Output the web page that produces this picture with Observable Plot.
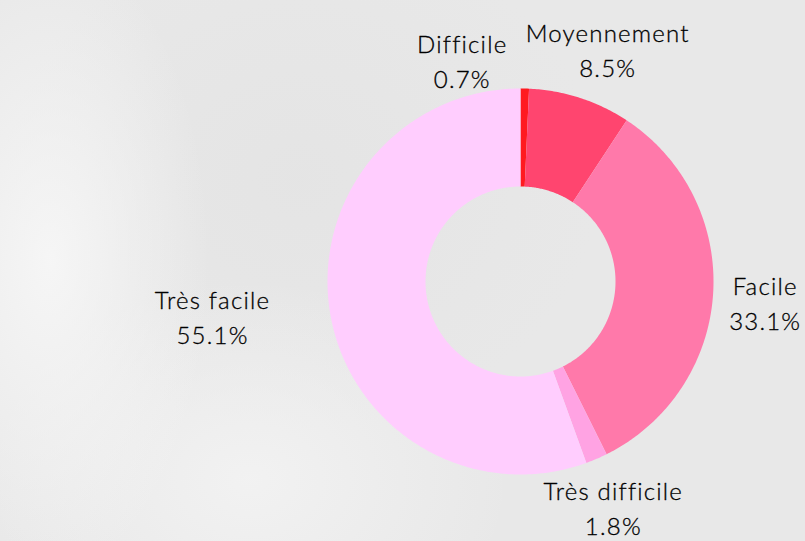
<!DOCTYPE html>
<html>
<head>
<meta charset="utf-8">
<script src="https://cdn.jsdelivr.net/npm/d3@7"></script>
<script src="https://cdn.jsdelivr.net/npm/@observablehq/plot@0.6"></script>
<style>
  html, body { margin: 0; padding: 0; }
  body {
    width: 805px; height: 541px; overflow: hidden;
    background:
      radial-gradient(ellipse 160px 320px at 50px 260px, rgba(247,247,247,0.9), rgba(247,247,247,0) 100%),
      radial-gradient(ellipse 260px 200px at 250px 480px, rgba(244,244,244,0.8), rgba(244,244,244,0) 100%),
      radial-gradient(ellipse 300px 250px at 300px 180px, rgba(226,226,226,0.6), rgba(226,226,226,0) 100%),
      #e8e8e8;
  }
  #chart svg { display: block; }
</style>
</head>
<body>
<div id="chart"></div>
<script>
const categories = ["Difficile", "Moyennement", "Facile", "Très difficile", "Très facile"];
const values = [0.7, 8.5, 33.1, 1.8, 55.1];
const labels = ["0.7%", "8.5%", "33.1%", "1.8%", "55.1%"];
const colors = ["#ff1a20", "#ff456f", "#ff79aa", "#ffa3e3", "#ffcdfe"];

const W = 805, H = 541;
const cx = 520, cy = 281, R = 193;       // center and outer radius in pixels
const innerFrac = 95 / 193;

// slice angles (clockwise from 12 o'clock)
const total = d3.sum(values);
let acc = 0;
const slices = categories.map((c, i) => {
  const a0 = acc / total * 2 * Math.PI;
  acc += values[i];
  const a1 = acc / total * 2 * Math.PI;
  return {cat: c, a0, a1, mid: (a0 + a1) / 2, label: c + "\n" + labels[i]};
});

// polygon outline for each ring slice
const poly = [];
for (const s of slices) {
  const n = Math.max(4, Math.ceil((s.a1 - s.a0) / 0.01));
  for (let k = 0; k <= n; k++) {
    const a = s.a0 + (s.a1 - s.a0) * k / n;
    poly.push({cat: s.cat, x: Math.sin(a), y: Math.cos(a)});
  }
  for (let k = n; k >= 0; k--) {
    const a = s.a0 + (s.a1 - s.a0) * k / n;
    poly.push({cat: s.cat, x: innerFrac * Math.sin(a), y: innerFrac * Math.cos(a)});
  }
}

// label placement along mid angle, with small nudges to avoid overlap
const labelRadius = {"Très facile": 1.6};
const nudge = {
  "Difficile": [-0.33, -0.118],
  "Moyennement": [0.06, 0.0],
  "Facile": [0.0, -0.026],
  "Très difficile": [-0.02, 0.0],
  "Très facile": [-0.02, 0.10]
};
const labelPts = slices.map(s => {
  const r = labelRadius[s.cat] ?? 1.27;
  const [dx, dy] = nudge[s.cat] ?? [0, 0];
  return {text: s.label, x: r * Math.sin(s.mid) + dx, y: r * Math.cos(s.mid) + dy};
});

const chart = Plot.plot({
  width: W,
  height: H,
  margin: 0,
  style: {background: "transparent", fontFamily: "Lato, 'Open Sans', sans-serif", letterSpacing: "1.2px"},
  x: {domain: [-cx / R, (W - cx) / R], range: [0, W], axis: null},
  y: {domain: [-(H - cy) / R, cy / R], range: [H, 0], axis: null},
  color: {domain: categories, range: colors},
  marks: [
    Plot.line(poly, {x: "x", y: "y", z: "cat", fill: "cat", stroke: "none", curve: "linear"}),
    Plot.text(labelPts, {x: "x", y: "y", text: "text", fontSize: 24, fontWeight: 300, lineHeight: 1.45, fill: "#000", stroke: "#000", strokeWidth: 0.3, textAnchor: "middle"})
  ]
});
document.getElementById("chart").appendChild(chart);
</script>
</body>
</html>
